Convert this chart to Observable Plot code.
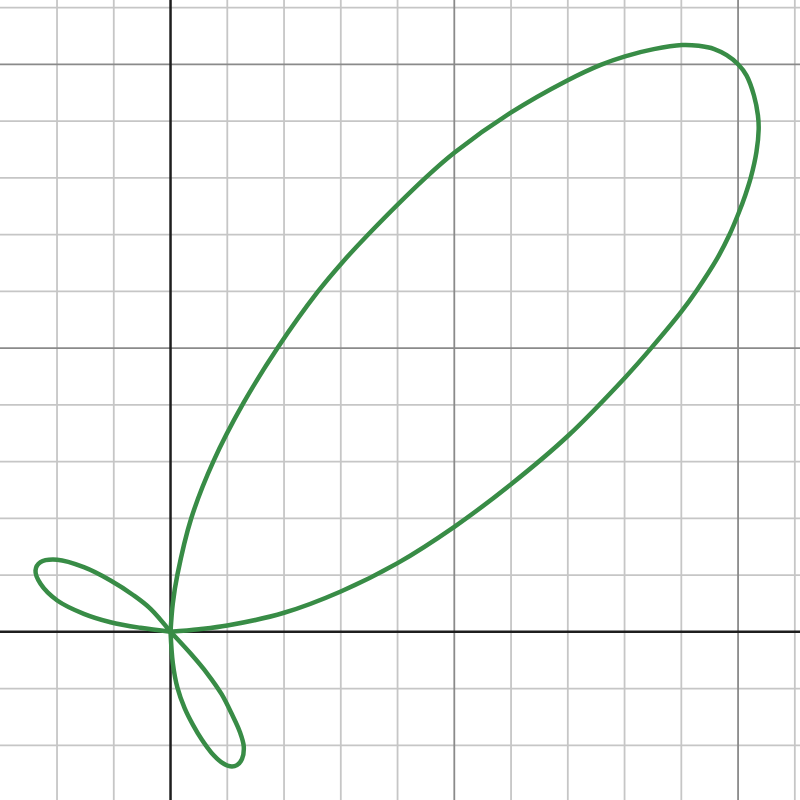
<!DOCTYPE html>
<html>
<head>
<meta charset="utf-8">
<script src="https://cdn.jsdelivr.net/npm/d3@7"></script>
<script src="https://cdn.jsdelivr.net/npm/@observablehq/plot@0.6"></script>
<style>
  html, body { margin: 0; padding: 0; background: #ffffff; }
  svg { display: block; }
</style>
</head>
<body>
<div id="chart"></div>
<script>
// Grid positions (graph units)
const minorX = [-2, -1, 1, 2, 3, 4, 6, 7, 8, 9, 11];
const majorX = [5, 10];
const minorY = [-2, -1, 1, 2, 3, 4, 6, 7, 8, 9, 11];
const majorY = [5, 10];

// Curve points, loop by loop
const bigLoopX = [0, 0.5, 1, 2, 3, 4, 5, 6, 7, 8.019, 8.461, 9, 9.277, 9.625, 9.85, 10.005, 10.127, 10.225, 10.324, 10.363, 10.35, 10.28, 10.15, 10, 9.8, 9.581, 9.306, 9.012, 8.514, 8.009, 7.58, 7, 5.988, 5.005, 4.481, 3.466, 3.034, 2.592, 1.891, 1.283, 0.757, 0.365, 0.12, 0.04, 0];
const bigLoopY = [0, 0.045, 0.11, 0.335, 0.71, 1.21, 1.85, 2.6, 3.45, 4.491, 4.989, 5.64, 6.023, 6.566, 7, 7.366, 7.694, 8.006, 8.457, 8.856, 9.1, 9.45, 9.8, 10, 10.16, 10.269, 10.325, 10.339, 10.267, 10.141, 9.991, 9.72, 9.143, 8.446, 7.99, 6.984, 6.517, 5.988, 5.009, 4.028, 3.007, 2, 1, 0.5, 0];

const leftLoopX = [0, -0.352, -0.647, -1.057, -1.528, -1.996, -2.291, -2.379, -2.291, -1.996, -1.528, -1.057, -0.529, 0];
const leftLoopY = [0, 0.405, 0.640, 0.904, 1.138, 1.269, 1.226, 1.080, 0.846, 0.552, 0.317, 0.169, 0.070, 0];

const lowLoopX = [0, 0.35, 0.65, 0.9, 1.08, 1.22, 1.29, 1.26, 1.17, 1.05, 0.9, 0.72, 0.55, 0.4, 0.25, 0.12, 0.04, 0];
const lowLoopY = [0, -0.38, -0.74, -1.1, -1.45, -1.76, -2.02, -2.24, -2.35, -2.37, -2.3, -2.13, -1.9, -1.65, -1.35, -0.98, -0.55, 0];

const loops = [
  {name: "big", xs: bigLoopX, ys: bigLoopY},
  {name: "left", xs: leftLoopX, ys: leftLoopY},
  {name: "low", xs: lowLoopX, ys: lowLoopY}
];
const curvePts = loops.flatMap(l => l.xs.map((x, i) => ({loop: l.name, x, y: l.ys[i]})));

const chart = Plot.plot({
  width: 800,
  height: 800,
  margin: 0,
  x: {domain: [-2.996, 11.1], axis: null},
  y: {domain: [-2.973, 11.124], axis: null},
  style: {background: "#ffffff"},
  marks: [
    Plot.ruleX(minorX, {stroke: "#c6c6c6", strokeWidth: 1.8}),
    Plot.ruleY(minorY, {stroke: "#c6c6c6", strokeWidth: 1.8}),
    Plot.ruleX(majorX, {stroke: "#8a8a8a", strokeWidth: 1.8}),
    Plot.ruleY(majorY, {stroke: "#8a8a8a", strokeWidth: 1.8}),
    Plot.ruleX([0], {stroke: "#1e1e1e", strokeWidth: 2.5}),
    Plot.ruleY([0], {stroke: "#1e1e1e", strokeWidth: 2.5}),
    Plot.line(curvePts, {x: "x", y: "y", z: "loop", curve: "catmull-rom", stroke: "#388c46", strokeWidth: 4.5, strokeLinejoin: "round", strokeLinecap: "round"})
  ]
});
document.getElementById("chart").appendChild(chart);
</script>
</body>
</html>
